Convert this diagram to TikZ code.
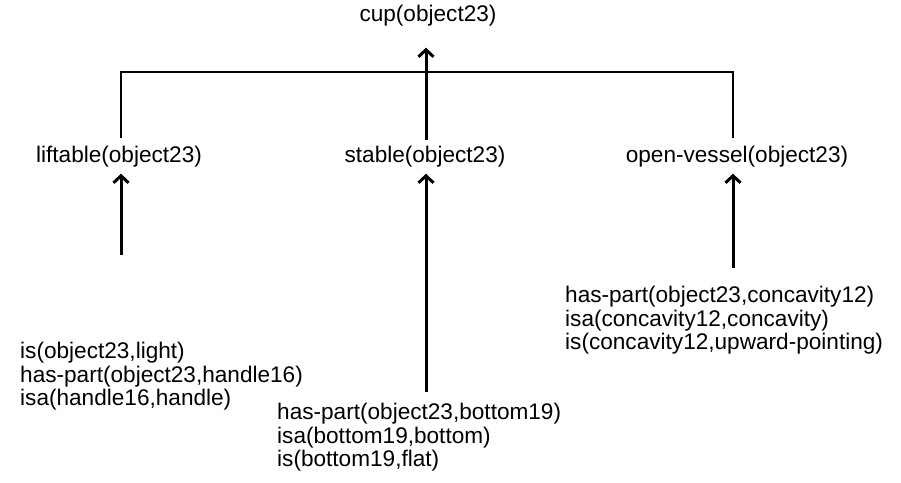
\documentclass[tikz,border=0pt]{standalone}
\usepackage{fontspec}
\setmainfont{Liberation Sans}
\usetikzlibrary{arrows.meta}

\begin{document}
\begin{tikzpicture}[
        x=1pt, y=-1pt,
        pred/.style={font=\fontsize{22.6}{23.5}\selectfont, inner sep=2pt},
        facts/.style={font=\fontsize{22.6}{23.5}\selectfont, align=left, inner sep=0pt, anchor=north west},
        link/.style={line width=3pt, -{Straight Barb[length=7pt, width=15pt]}},
        bar/.style={line width=2pt}
    ]
    \useasboundingbox (0,0) rectangle (901,482);

    % Goal
    \node[pred] (cup) at (428,16) {cup(object23)};

    % Functional properties
    \node[pred] (lift) at (119,157) {liftable(object23)};
    \node[pred] (stab) at (425,157) {stable(object23)};
    \node[pred] (vess) at (737,157) {open-vessel(object23)};

    % Observed facts
    \node[facts] (lfacts) at (20,342) {is(object23,light)\\has-part(object23,handle16)\\isa(handle16,handle)};
    \node[facts] (bfacts) at (277,403) {has-part(object23,bottom19)\\isa(bottom19,bottom)\\is(bottom19,flat)};
    \node[facts] (rfacts) at (565,286) {has-part(object23,concavity12)\\isa(concavity12,concavity)\\is(concavity12,upward-pointing)};

    % Tails of the arrows
    \coordinate (ltail) at (121,255);
    \coordinate (stail) at (426,392);
    \coordinate (rtail) at (733,268);
    \coordinate (bar) at (426,72);

    % Conjunction bar
    \draw[bar] (ltail |- 0,138) |- (bar) -| (rtail |- 0,138);

    % Arrows
    \draw[link, shorten >=4pt] (ltail) -- (ltail |- lift.south);
    \draw[link, shorten >=4pt] (stail) -- (stail |- stab.south);
    \draw[link, shorten >=4pt] (rtail) -- (rtail |- vess.south);
    \draw[link, shorten >=19pt] (stail |- 0,140) -- (stail |- cup.south);
\end{tikzpicture}
\end{document}
